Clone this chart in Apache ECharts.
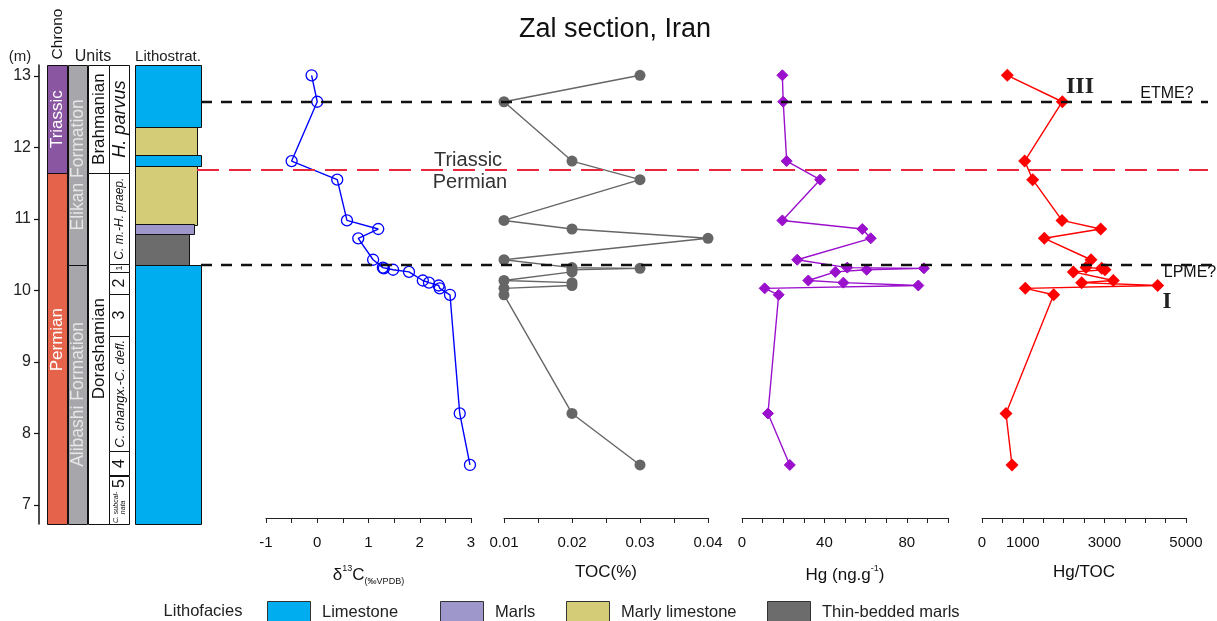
<!DOCTYPE html>
<html><head><meta charset="utf-8">
<script src="https://cdn.jsdelivr.net/npm/echarts@6/dist/echarts.min.js"></script>
<style>html,body{margin:0;padding:0;background:#fff}#c{width:1217px;height:621px}</style>
</head><body><div id="c"></div>
<script>
// ---------------- DATA ----------------
const depths = [13.01, 12.64, 11.81, 11.55, 10.98, 10.86, 10.73, 10.43, 10.32, 10.31, 10.29, 10.26, 10.14, 10.11, 10.07, 10.03, 9.94, 8.28, 7.56];
const d13C   = [-0.11, 0.00, -0.50, 0.39, 0.58, 1.19, 0.80, 1.09, 1.28, 1.30, 1.48, 1.79, 2.06, 2.18, 2.37, 2.39, 2.59, 2.78, 2.98];
const toc    = [0.03, 0.01, 0.02, 0.03, 0.01, 0.02, 0.04, 0.01, 0.02, 0.03, 0.02, 0.02, 0.01, 0.02, 0.02, 0.01, 0.01, 0.02, 0.03];
const hg     = [19.6, 20.0, 21.7, 37.9, 19.6, 58.4, 62.5, 26.8, 51.1, 88.3, 60.5, 45.3, 32.2, 49.2, 85.6, 11.0, 17.8, 12.6, 23.2];
const hgToc  = [620, 1968, 1047, 1243, 1961, 2909, 1527, 2672, 2549, 2934, 3015, 2238, 3218, 2444, 4306, 1061, 1757, 588, 735];

const chronoNames = ['Triassic', 'Permian'];
const chronoTops  = [13.154, 11.64];
const chronoBases = [11.64, 6.734];

const formationNames = ['Elikan Formation', 'Alibashi Formation'];
const formationTops  = [13.154, 10.36];
const formationBases = [10.36, 6.734];

const stageNames = ['Brahmanian', 'Dorashamian'];
const stageTops  = [13.154, 11.64];
const stageBases = [11.64, 6.734];

const zoneNames = ['H. parvus', 'C. m.-H. praep.', '1', '2', '3', 'C. changx.-C. defl.', '4', '5'];
const zoneNotes = ['', '', '', '', '', '', '', 'C. subcal-\nnata'];
const zoneTops  = [13.154, 11.64, 10.37, 10.26, 9.95, 9.36, 7.75, 7.41];
const zoneBases = [11.64, 10.37, 10.26, 9.95, 9.36, 7.75, 7.41, 6.734];

const lithoTypes = ['Limestone', 'Marly limestone', 'Limestone', 'Marly limestone', 'Marls', 'Thin-bedded marls', 'Limestone'];
const lithoTops  = [13.154, 12.29, 11.895, 11.745, 10.926, 10.786, 10.357];
const lithoBases = [12.29, 11.895, 11.745, 10.926, 10.786, 10.357, 6.734];

const eventLabels = ['ETME?', 'Triassic/Permian boundary', 'LPME?'];
const eventDepths = [12.636, 11.685, 10.357];

const depthTicks = [7, 8, 9, 10, 11, 12, 13];
const d13CLabels = [-1, 0, 1, 2, 3];
const tocLabels  = [0.01, 0.02, 0.03, 0.04];
const hgLabels   = [0, 40, 80];
const hgTocLabels = [0, 1000, 3000, 5000];
const lithofaciesLegend = ['Limestone', 'Marls', 'Marly limestone', 'Thin-bedded marls'];

// ---------------- STYLE ----------------
const FONT = '"Liberation Sans", Arial, Helvetica, sans-serif';
const SERIF = '"Liberation Serif", "Times New Roman", serif';
const DMAX = 13.154, DMIN_COL = 6.734, DMIN_PLOT = 6.818;
const lithoColor = {'Limestone': '#00aeef', 'Marly limestone': '#d5cc78', 'Marls': '#9d97cb', 'Thin-bedded marls': '#6c6c6c'};
const lithoWidth = {'Limestone': 66, 'Marly limestone': 62, 'Marls': 58.7, 'Thin-bedded marls': 54};
const chronoColor = {'Triassic': '#8b56a1', 'Permian': '#e5634b'};
const zoneFont = {'H. parvus': 'italic 18px', 'C. m.-H. praep.': 'italic 12px', '1': '9px', '2': '16px', '3': '16px',
  'C. changx.-C. defl.': 'italic 13px', '4': '16px', '5': '16px'};

function txt(text, x, y, font, fill, rot, extra) {
  return Object.assign({
    type: 'text', x: x, y: y, rotation: rot || 0,
    style: {text: text, font: font, fill: fill || '#111', align: 'center', verticalAlign: 'middle',
      textAlign: 'center', textVerticalAlign: 'middle'}
  }, extra || {});
}

function columnSeries(tops, bases, x0, x1, fillFn, textFn) {
  return {
    type: 'custom', xAxisIndex: 0, yAxisIndex: 0, silent: true, z: 3,
    data: tops.map((t, i) => [t, bases[i]]),
    renderItem: function (params, api) {
      const i = params.dataIndex;
      const xr = typeof x1 === 'function' ? x1(i) : x1;
      const a = api.coord([x0, api.value(0)]);
      const b = api.coord([xr, api.value(1)]);
      const children = [{
        type: 'rect',
        shape: {x: Math.round(a[0]) + 0.5, y: Math.round(a[1]) + 0.5, width: Math.round(b[0] - a[0]), height: Math.round(b[1] - a[1])},
        style: {fill: fillFn(i), stroke: '#111', lineWidth: 1}
      }];
      const t = textFn ? textFn(i, a, b) : null;
      if (t) (Array.isArray(t) ? t : [t]).forEach(e => children.push(e));
      return {type: 'group', children: children};
    }
  };
}

function dataX(grid, min, max, interval, labels, fmt, name, rich) {
  return {
    type: 'value', gridIndex: grid, min: min, max: max, interval: interval, position: 'bottom',
    axisLine: {show: true, onZero: false, lineStyle: {color: '#222', width: 1}},
    axisTick: {show: true, length: 5, inside: false, lineStyle: {color: '#222', width: 1}},
    axisLabel: {show: true, margin: 17, fontSize: 15, color: '#111', fontFamily: FONT,
      formatter: v => labels.some(l => Math.abs(l - v) < 1e-9) ? fmt(v) : ''},
    splitLine: {show: false},
    name: name, nameLocation: 'middle', nameGap: 46,
    nameTextStyle: {fontSize: 17, color: '#111', fontFamily: FONT, rich: rich}
  };
}
function hiddenY(grid, min) {
  return {type: 'value', gridIndex: grid, min: min, max: DMAX, show: false,
    axisLine: {show: false}, axisTick: {show: false}, axisLabel: {show: false}, splitLine: {show: false}};
}

const richName = {
  a: {fontSize: 17, fontFamily: FONT, color: '#111', lineHeight: 22},
  sup: {fontSize: 9, fontFamily: FONT, color: '#111', verticalAlign: 'top', lineHeight: 22, padding: [0, 0, 0, 0]},
  sub: {fontSize: 9, fontFamily: FONT, color: '#111', verticalAlign: 'bottom', lineHeight: 16}
};

function plotSeries(grid, vals, color, sym, size, itemStyle) {
  return {
    type: 'line', xAxisIndex: grid, yAxisIndex: grid, z: 4,
    data: depths.map((d, i) => [vals[i], d]),
    symbol: sym, symbolSize: size, showSymbol: true,
    lineStyle: {color: color, width: 1.4},
    itemStyle: itemStyle, silent: true
  };
}

// dashed event lines in an overlay grid (x units = pixels from x=197)
const eventStart = [4, 0, 4], eventEnd = [1011, 1011, 1020];
const eventStyle = [
  {color: '#111', width: 2.4, type: [11, 9]},
  {color: '#e8283f', width: 2, type: [22, 10]},
  {color: '#111', width: 2.4, type: [11, 9]}
];
const eventSeries = eventDepths.map((d, i) => ({
  type: 'line', xAxisIndex: 5, yAxisIndex: 5, z: 6, symbol: 'none', silent: true,
  data: [[eventStart[i], d], [eventEnd[i], d]],
  lineStyle: eventStyle[i]
}));

const grids = [
  {left: 39, top: 65, width: 170, height: 459},
  {left: 266, top: 65, width: 205, height: 453},
  {left: 504, top: 65, width: 204, height: 453},
  {left: 742, top: 65, width: 206, height: 453},
  {left: 982, top: 65, width: 204, height: 453},
  {left: 197, top: 65, width: 1020, height: 453}
].map(g => Object.assign({containLabel: false, outerBoundsMode: 'none'}, g));

const legendX = [267, 440, 566, 767];
const legendGraphics = [txt('Lithofacies', 203, 611, '16.5px ' + FONT, '#222')];
lithofaciesLegend.forEach((n, i) => {
  legendGraphics.push({type: 'rect', shape: {x: legendX[i] + 0.5, y: 601.5, width: 43, height: 24},
    style: {fill: lithoColor[n], stroke: '#333', lineWidth: 1}});
  legendGraphics.push({type: 'text', x: legendX[i] + 55, y: 612,
    style: {text: n, font: '16.5px ' + FONT, fill: '#222', align: 'left', verticalAlign: 'middle', textAlign: 'left', textVerticalAlign: 'middle'}});
});

const option = {
  animation: false,
  backgroundColor: '#fff',
  grid: grids,
  xAxis: [
    {type: 'value', gridIndex: 0, min: 0, max: 170, show: false},
    dataX(1, -1, 3, 0.5, d13CLabels, v => String(v), '{a|δ}{sup|13}{a|C}{sub|(‰VPDB)}', richName),
    dataX(2, 0.01, 0.04, 0.005, tocLabels, v => v.toFixed(2), 'TOC(%)', richName),
    dataX(3, 0, 100, 10, hgLabels, v => String(v), '{a|Hg (ng.g}{sup|-1}{a|)}', richName),
    dataX(4, 0, 5000, 500, hgTocLabels, v => String(v), 'Hg/TOC', richName),
    {type: 'value', gridIndex: 5, min: 0, max: 1020, show: false}
  ],
  yAxis: [
    {type: 'value', gridIndex: 0, min: DMIN_COL, max: DMAX, position: 'left',
      axisLine: {show: true, lineStyle: {color: '#111', width: 1.5}},
      axisTick: {show: true, length: 5, inside: false, customValues: depthTicks, lineStyle: {color: '#111', width: 1.2}},
      axisLabel: {show: true, fontSize: 16, color: '#222', fontFamily: FONT, margin: 8, customValues: depthTicks},
      splitLine: {show: false}},
    hiddenY(1, DMIN_PLOT), hiddenY(2, DMIN_PLOT), hiddenY(3, DMIN_PLOT), hiddenY(4, DMIN_PLOT), hiddenY(5, DMIN_PLOT)
  ],
  graphic: [
    txt('Zal section, Iran', 615, 30, '27px ' + FONT, '#111'),
    txt('(m)', 20, 57, '15px ' + FONT, '#222'),
    txt('Chrono', 58, 34, '15.5px ' + FONT, '#111', Math.PI / 2),
    txt('Units', 93, 57, '16px ' + FONT, '#222'),
    txt('Lithostrat.', 168, 57, '15px ' + FONT, '#222'),
    txt('Triassic', 468, 160, '20px ' + FONT, '#333'),
    txt('Permian', 470, 182, '20px ' + FONT, '#333'),
    txt('ETME?', 1167, 94, '16px ' + FONT, '#111'),
    txt('LPME?', 1190, 273, '16px ' + FONT, '#111'),
    txt('III', 1080, 87, 'bold 24px ' + SERIF, '#222'),
    txt('I', 1167, 302, 'bold 23px ' + SERIF, '#222')
  ].concat(legendGraphics),
  series: [
    columnSeries(chronoTops, chronoBases, 7.5, 27.5, i => chronoColor[chronoNames[i]],
      (i, a, b) => txt(chronoNames[i], (a[0] + b[0]) / 2 + 0.5, (a[1] + b[1]) / 2 - (i === 1 ? 9 : 0), '17px ' + FONT, '#fff', Math.PI / 2)),
    columnSeries(formationTops, formationBases, 29.3, 48.5, i => '#a7a7ab',
      (i, a, b) => txt(formationNames[i], (a[0] + b[0]) / 2 + 0.5, (a[1] + b[1]) / 2, '17.5px ' + FONT, '#e6e6e6', Math.PI / 2)),
    columnSeries(stageTops, stageBases, 49.3, 70, i => '#fff',
      (i, a, b) => txt(stageNames[i], (a[0] + b[0]) / 2 + 0.5, (a[1] + b[1]) / 2, '17px ' + FONT, '#111', Math.PI / 2)),
    columnSeries(zoneTops, zoneBases, 70.3, 90.5, i => '#fff',
      (i, a, b) => {
        const cx = (a[0] + b[0]) / 2 + 0.5;
        const f = zoneFont[zoneNames[i]] + ' ' + FONT;
        if (zoneNotes[i]) {
          return [txt(zoneNames[i], cx, a[1] + 8, f, '#111', Math.PI / 2),
                  txt(zoneNotes[i], cx, (a[1] + 15 + b[1]) / 2, 'italic 7px ' + FONT, '#111', Math.PI / 2)];
        }
        return txt(zoneNames[i], cx, (a[1] + b[1]) / 2, f, '#111', Math.PI / 2);
      }),
    columnSeries(lithoTops, lithoBases, 96, i => 96 + lithoWidth[lithoTypes[i]], i => lithoColor[lithoTypes[i]], null),
    plotSeries(1, d13C, '#0000ff', 'circle', 11, {color: 'rgba(0,0,0,0)', borderColor: '#0000ff', borderWidth: 1.3}),
    plotSeries(2, toc, '#666666', 'circle', 11, {color: '#666666', borderWidth: 0}),
    plotSeries(3, hg, '#9a10cc', 'diamond', 11, {color: '#9a10cc', borderColor: '#9a10cc', borderWidth: 1}),
    plotSeries(4, hgToc, '#ff0000', 'diamond', 13, {color: '#ff0000', borderWidth: 0})
  ].concat(eventSeries)
};

const chart = echarts.init(document.getElementById('c'), null, {renderer: 'canvas', width: 1217, height: 621});
chart.setOption(option);
</script></body></html>
